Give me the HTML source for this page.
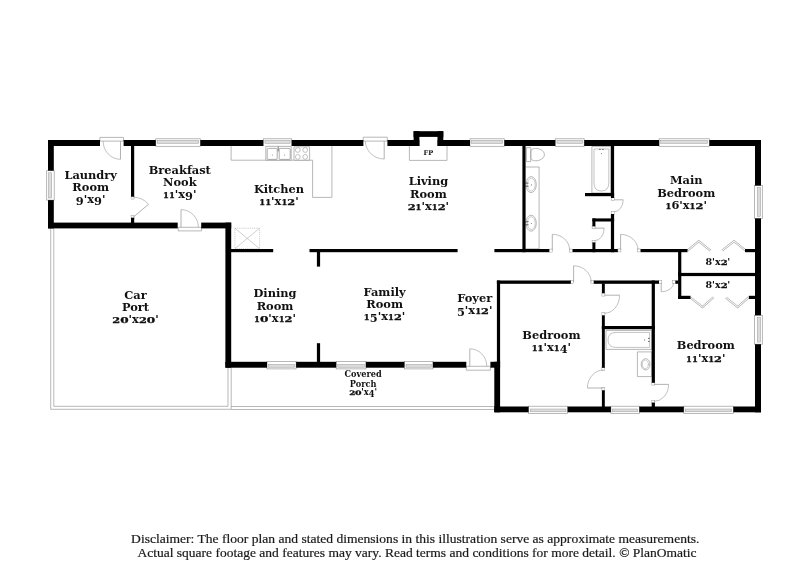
<!DOCTYPE html>
<html lang="en"><head><meta charset="utf-8"><title>Floor plan</title>
<style>
html,body{margin:0;padding:0;background:#fff;}
body{width:809px;height:588px;overflow:hidden;}
svg{display:block;filter:grayscale(1);}
text{font-family:"DejaVu Serif","Liberation Serif",serif;fill:#111;}
.lb{font-weight:bold;font-size:11.4px;text-anchor:middle;}
.cl{font-weight:bold;font-size:10px;text-anchor:middle;}
.sm{font-weight:bold;font-size:8.9px;}
.fp{font-weight:bold;font-size:6.6px;text-anchor:middle;}
.ds{font-family:"Liberation Serif","DejaVu Serif",serif;font-size:12.8px;fill:#1a1a1a;stroke:#1a1a1a;stroke-width:0.2px;}
</style></head><body>
<svg width="809" height="588" viewBox="0 0 809 588">
<rect width="809" height="588" fill="#fff"/>
<g id="thin">
<rect x="155.80" y="138.80" width="44.50" height="7.50" fill="#fff" stroke="#9a9a9a" stroke-width="0.7"/>
<rect x="157.40" y="140.50" width="41.30" height="2.80" fill="#dcdcdc" stroke="#9a9a9a" stroke-width="0.5"/>
<rect x="263.30" y="138.80" width="28.40" height="7.50" fill="#fff" stroke="#9a9a9a" stroke-width="0.7"/>
<rect x="264.90" y="140.50" width="25.20" height="2.80" fill="#dcdcdc" stroke="#9a9a9a" stroke-width="0.5"/>
<rect x="470.00" y="138.80" width="34.30" height="7.50" fill="#fff" stroke="#9a9a9a" stroke-width="0.7"/>
<rect x="471.60" y="140.50" width="31.10" height="2.80" fill="#dcdcdc" stroke="#9a9a9a" stroke-width="0.5"/>
<rect x="555.30" y="138.80" width="28.90" height="7.50" fill="#fff" stroke="#9a9a9a" stroke-width="0.7"/>
<rect x="556.90" y="140.50" width="25.70" height="2.80" fill="#dcdcdc" stroke="#9a9a9a" stroke-width="0.5"/>
<rect x="659.10" y="138.80" width="50.20" height="7.50" fill="#fff" stroke="#9a9a9a" stroke-width="0.7"/>
<rect x="660.70" y="140.50" width="47.00" height="2.80" fill="#dcdcdc" stroke="#9a9a9a" stroke-width="0.5"/>
<rect x="267.00" y="361.50" width="29.10" height="7.40" fill="#fff" stroke="#9a9a9a" stroke-width="0.7"/>
<rect x="268.60" y="364.40" width="25.90" height="2.80" fill="#dcdcdc" stroke="#9a9a9a" stroke-width="0.5"/>
<rect x="336.20" y="361.50" width="29.70" height="7.40" fill="#fff" stroke="#9a9a9a" stroke-width="0.7"/>
<rect x="337.80" y="364.40" width="26.50" height="2.80" fill="#dcdcdc" stroke="#9a9a9a" stroke-width="0.5"/>
<rect x="404.40" y="361.50" width="28.50" height="7.40" fill="#fff" stroke="#9a9a9a" stroke-width="0.7"/>
<rect x="406.00" y="364.40" width="25.30" height="2.80" fill="#dcdcdc" stroke="#9a9a9a" stroke-width="0.5"/>
<rect x="528.60" y="406.20" width="39.00" height="7.30" fill="#fff" stroke="#9a9a9a" stroke-width="0.7"/>
<rect x="530.20" y="409.00" width="35.80" height="2.80" fill="#dcdcdc" stroke="#9a9a9a" stroke-width="0.5"/>
<rect x="610.90" y="406.20" width="28.40" height="7.30" fill="#fff" stroke="#9a9a9a" stroke-width="0.7"/>
<rect x="612.50" y="409.00" width="25.20" height="2.80" fill="#dcdcdc" stroke="#9a9a9a" stroke-width="0.5"/>
<rect x="683.80" y="406.20" width="49.50" height="7.30" fill="#fff" stroke="#9a9a9a" stroke-width="0.7"/>
<rect x="685.40" y="409.00" width="46.30" height="2.80" fill="#dcdcdc" stroke="#9a9a9a" stroke-width="0.5"/>
<rect x="46.70" y="170.70" width="7.50" height="29.40" fill="#fff" stroke="#9a9a9a" stroke-width="0.7"/>
<rect x="48.40" y="172.80" width="3.30" height="25.20" fill="#dcdcdc" stroke="#9a9a9a" stroke-width="0.5"/>
<rect x="754.60" y="185.60" width="7.70" height="32.80" fill="#fff" stroke="#9a9a9a" stroke-width="0.7"/>
<rect x="757.30" y="187.70" width="3.30" height="28.60" fill="#dcdcdc" stroke="#9a9a9a" stroke-width="0.5"/>
<rect x="754.60" y="315.30" width="7.70" height="28.90" fill="#fff" stroke="#9a9a9a" stroke-width="0.7"/>
<rect x="757.30" y="317.40" width="3.30" height="24.70" fill="#dcdcdc" stroke="#9a9a9a" stroke-width="0.5"/>
<path d="M50.7,228.4 V409.3 H231.2 V367.7" fill="none" stroke="#9a9a9a" stroke-width="0.7" />
<path d="M53.8,228.4 V406.3 H228.0 V367.7" fill="none" stroke="#9a9a9a" stroke-width="0.7" />
<path d="M231.2,409.5 H494.3" fill="none" stroke="#9a9a9a" stroke-width="0.7" />
<path d="M231.2,406.5 H494.3" fill="none" stroke="#9a9a9a" stroke-width="0.7" />
<path d="M231.1,146 V160.2 H312.6 V197.4 H331.9 V146" fill="#fff" stroke="#9a9a9a" stroke-width="0.7" />
<path d="M265.8,146.4 H291.2 V160.2 H265.8 Z" fill="#fff" stroke="#9a9a9a" stroke-width="0.7" />
<path d="M268.2,148.4 H276.2 Q277.2,148.4 277.2,149.4 V158.4 Q277.2,159.4 276.2,159.4 H268.2 Q267.2,159.4 267.2,158.4 V149.4 Q267.2,148.4 268.2,148.4 Z M280.2,148.4 H289.2 Q290.2,148.4 290.2,149.4 V158.4 Q290.2,159.4 289.2,159.4 H280.2 Q279.2,159.4 279.2,158.4 V149.4 Q279.2,148.4 280.2,148.4 Z" fill="none" stroke="#777" stroke-width="0.6" />
<path d="M278.2,146.6 V151.4" fill="none" stroke="#666" stroke-width="0.9" />
<circle cx="272.3" cy="155" r="0.5" fill="#777"/><circle cx="284.6" cy="155" r="0.5" fill="#777"/>
<path d="M294.0,146.8 H309.6 V160.2 H294.0 Z" fill="#fff" stroke="#9a9a9a" stroke-width="0.7" />
<circle cx="297.8" cy="150.0" r="2.4" fill="none" stroke="#9a9a9a" stroke-width="0.6"/>
<circle cx="305.2" cy="150.0" r="2.4" fill="none" stroke="#9a9a9a" stroke-width="0.6"/>
<circle cx="297.8" cy="156.9" r="2.4" fill="none" stroke="#9a9a9a" stroke-width="0.6"/>
<circle cx="305.2" cy="156.9" r="2.4" fill="none" stroke="#9a9a9a" stroke-width="0.6"/>
<path d="M234.9,228.2 H259.6 V248.7 H234.9 Z" fill="none" stroke="#a8a8a8" stroke-width="0.6" stroke-dasharray="1 0.9"/>
<path d="M234.9,228.2 L259.6,248.7 M259.6,228.2 L234.9,248.7" fill="none" stroke="#a8a8a8" stroke-width="0.55" />
<path d="M409.4,146 V160.4 H447 V146" fill="#fff" stroke="#9a9a9a" stroke-width="0.7" />
<path d="M419.3,136.9 V146 M437.6,136.9 V146" fill="none" stroke="#9a9a9a" stroke-width="0.5" />
<path d="M525.6,167 H539.1 V248.8 H525.6" fill="none" stroke="#9a9a9a" stroke-width="0.7" />
<ellipse cx="531.1" cy="184.6" rx="5.2" ry="8.0" fill="#fff" stroke="#9a9a9a" stroke-width="0.7"/>
<ellipse cx="531.3" cy="184.6" rx="3.9" ry="6.4" fill="none" stroke="#9a9a9a" stroke-width="0.5"/>
<path d="M525.4,183.1 H528.6 M525.4,186.2 H528.6" fill="none" stroke="#555" stroke-width="0.9" />
<circle cx="531.4" cy="184.9" r="0.55" fill="#777"/>
<ellipse cx="531.1" cy="223.2" rx="5.2" ry="8.0" fill="#fff" stroke="#9a9a9a" stroke-width="0.7"/>
<ellipse cx="531.3" cy="223.2" rx="3.9" ry="6.4" fill="none" stroke="#9a9a9a" stroke-width="0.5"/>
<path d="M525.4,221.7 H528.6 M525.4,224.8 H528.6" fill="none" stroke="#555" stroke-width="0.9" />
<circle cx="531.4" cy="223.5" r="0.55" fill="#777"/>
<path d="M526.4,147.6 H530.8 V161.6 H526.4 Z" fill="none" stroke="#9a9a9a" stroke-width="0.7" />
<path d="M530.8,150.8 C531.6,148.2 536.6,148.0 539.4,149.0 C542.8,150.2 544.4,152.4 544.4,154.6 C544.4,156.8 542.8,159.0 539.4,160.2 C536.6,161.2 531.6,161.0 530.8,158.4 Z" fill="none" stroke="#9a9a9a" stroke-width="0.7" />
<path d="M591.9,146.6 H610.9 V193 H591.9 Z" fill="none" stroke="#9a9a9a" stroke-width="0.7" />
<path d="M594,149 H608.8 V183 Q608.8,191 601.4,191 Q594,191 594,183 Z" fill="none" stroke="#9a9a9a" stroke-width="0.6" />
<circle cx="599.9" cy="149.4" r="0.7" fill="#555"/><circle cx="602.9" cy="149.4" r="0.7" fill="#555"/><circle cx="601.4" cy="153.6" r="0.55" fill="#777"/>
<path d="M606,330.4 H651.7 V349.4 H606 Z" fill="none" stroke="#9a9a9a" stroke-width="0.7" />
<path d="M649.6,332.4 V347.4 H616 Q608,347.4 608,339.9 Q608,332.4 616,332.4 Z" fill="none" stroke="#9a9a9a" stroke-width="0.6" />
<circle cx="648.8" cy="338.4" r="0.7" fill="#555"/><circle cx="648.8" cy="341.4" r="0.7" fill="#555"/><circle cx="644.6" cy="339.9" r="0.55" fill="#777"/>
<path d="M637.4,351.9 H651.7 V376.6 H637.4 Z" fill="none" stroke="#9a9a9a" stroke-width="0.7" />
<ellipse cx="645.6" cy="364.3" rx="4.4" ry="5.6" fill="#fff" stroke="#9a9a9a" stroke-width="0.7"/>
<ellipse cx="645.3" cy="364.3" rx="3" ry="4.2" fill="none" stroke="#9a9a9a" stroke-width="0.5"/>
<circle cx="649" cy="364.3" r="0.6" fill="#9a9a9a"/>
<rect x="99.90" y="137.40" width="23.60" height="8.90" fill="#fff"/>
<path d="M99.90,141.10 V137.40 H123.50 V141.10 Z" fill="#fff" stroke="#9a9a9a" stroke-width="0.7" />
<path d="M120.50,159.30 A17.40,18.20 0 0 1 103.10,141.10" fill="none" stroke="#a6a6a6" stroke-width="0.7" />
<path d="M120.50,141.10 L120.50,159.30" fill="none" stroke="#a0a0a0" stroke-width="0.8" />
<rect x="363.20" y="137.20" width="24.10" height="9.10" fill="#fff"/>
<path d="M363.20,141.10 V137.20 H387.30 V141.10 Z" fill="#fff" stroke="#9a9a9a" stroke-width="0.7" />
<path d="M384.20,159.00 A18.80,17.90 0 0 1 365.40,141.10" fill="none" stroke="#a6a6a6" stroke-width="0.7" />
<path d="M384.20,141.10 L384.20,159.00" fill="none" stroke="#a0a0a0" stroke-width="0.8" />
<rect x="178.20" y="222.30" width="23.40" height="8.60" fill="#fff"/>
<path d="M178.20,227.30 V230.90 H201.60 V227.30 Z" fill="#fff" stroke="#9a9a9a" stroke-width="0.7" />
<path d="M181.00,209.60 A17.40,17.70 0 0 1 198.40,227.30" fill="none" stroke="#a6a6a6" stroke-width="0.7" />
<path d="M181.00,227.30 L181.00,209.60" fill="none" stroke="#a0a0a0" stroke-width="0.8" />
<rect x="466.30" y="361.50" width="24.10" height="8.70" fill="#fff"/>
<path d="M466.30,366.30 V370.20 H490.40 V366.30 Z" fill="#fff" stroke="#9a9a9a" stroke-width="0.7" />
<path d="M469.80,348.80 A17.00,17.50 0 0 1 486.80,366.30" fill="none" stroke="#a6a6a6" stroke-width="0.7" />
<path d="M469.80,366.30 L469.80,348.80" fill="none" stroke="#a0a0a0" stroke-width="0.8" />
<rect x="131.10" y="196.10" width="3.00" height="3.00" fill="#fff" stroke="#9a9a9a" stroke-width="0.5"/>
<rect x="131.10" y="215.50" width="3.00" height="3.00" fill="#fff" stroke="#9a9a9a" stroke-width="0.5"/>
<path d="M148.52,204.34 A20.0,20.0 0 0 0 133.20,197.20" fill="none" stroke="#a6a6a6" stroke-width="0.7" />
<path d="M133.20,217.20 L148.52,204.34" fill="none" stroke="#a0a0a0" stroke-width="0.8" />
<rect x="549.20" y="249.10" width="3.00" height="3.00" fill="#fff" stroke="#9a9a9a" stroke-width="0.5"/>
<rect x="569.50" y="249.10" width="3.00" height="3.00" fill="#fff" stroke="#9a9a9a" stroke-width="0.5"/>
<path d="M552.30,234.30 A17.30,15.70 0 0 1 569.60,250.00" fill="none" stroke="#a6a6a6" stroke-width="0.7" />
<path d="M552.30,250.00 L552.30,234.30" fill="none" stroke="#a0a0a0" stroke-width="0.8" />
<rect x="617.90" y="248.90" width="3.00" height="3.00" fill="#fff" stroke="#9a9a9a" stroke-width="0.5"/>
<rect x="637.70" y="248.90" width="3.00" height="3.00" fill="#fff" stroke="#9a9a9a" stroke-width="0.5"/>
<path d="M620.60,234.40 A17.40,15.60 0 0 1 638.00,250.00" fill="none" stroke="#a6a6a6" stroke-width="0.7" />
<path d="M620.60,250.00 L620.60,234.40" fill="none" stroke="#a0a0a0" stroke-width="0.8" />
<rect x="611.30" y="197.50" width="3.00" height="3.00" fill="#fff" stroke="#9a9a9a" stroke-width="0.5"/>
<rect x="611.30" y="211.40" width="3.00" height="3.00" fill="#fff" stroke="#9a9a9a" stroke-width="0.5"/>
<path d="M623.20,199.80 A9.20,12.00 0 0 1 614.00,211.80" fill="none" stroke="#a6a6a6" stroke-width="0.7" />
<path d="M614.00,199.80 L623.20,199.80" fill="none" stroke="#a0a0a0" stroke-width="0.8" />
<rect x="592.10" y="225.80" width="3.00" height="3.00" fill="#fff" stroke="#9a9a9a" stroke-width="0.5"/>
<rect x="592.10" y="240.40" width="3.00" height="3.00" fill="#fff" stroke="#9a9a9a" stroke-width="0.5"/>
<path d="M604.20,228.10 A9.40,12.50 0 0 1 594.80,240.60" fill="none" stroke="#a6a6a6" stroke-width="0.7" />
<path d="M594.80,228.10 L604.20,228.10" fill="none" stroke="#a0a0a0" stroke-width="0.8" />
<rect x="570.70" y="280.60" width="3.00" height="3.00" fill="#fff" stroke="#9a9a9a" stroke-width="0.5"/>
<rect x="590.90" y="280.60" width="3.00" height="3.00" fill="#fff" stroke="#9a9a9a" stroke-width="0.5"/>
<path d="M573.60,265.80 A17.60,16.20 0 0 1 591.20,282.00" fill="none" stroke="#a6a6a6" stroke-width="0.7" />
<path d="M573.60,282.00 L573.60,265.80" fill="none" stroke="#a0a0a0" stroke-width="0.8" />
<rect x="658.80" y="280.60" width="3.00" height="3.00" fill="#fff" stroke="#9a9a9a" stroke-width="0.5"/>
<rect x="672.50" y="280.60" width="3.00" height="3.00" fill="#fff" stroke="#9a9a9a" stroke-width="0.5"/>
<path d="M661.20,291.80 A12.40,8.80 0 0 0 673.60,283.00" fill="none" stroke="#a6a6a6" stroke-width="0.7" />
<path d="M661.20,283.00 L661.20,291.80" fill="none" stroke="#a0a0a0" stroke-width="0.8" />
<rect x="601.90" y="293.10" width="3.00" height="3.00" fill="#fff" stroke="#9a9a9a" stroke-width="0.5"/>
<rect x="601.90" y="312.70" width="3.00" height="3.00" fill="#fff" stroke="#9a9a9a" stroke-width="0.5"/>
<path d="M619.60,295.20 A15.00,18.00 0 0 1 604.60,313.20" fill="none" stroke="#a6a6a6" stroke-width="0.7" />
<path d="M604.60,295.20 L619.60,295.20" fill="none" stroke="#a0a0a0" stroke-width="0.8" />
<rect x="601.80" y="367.40" width="3.00" height="3.00" fill="#fff" stroke="#9a9a9a" stroke-width="0.5"/>
<rect x="601.80" y="387.70" width="3.00" height="3.00" fill="#fff" stroke="#9a9a9a" stroke-width="0.5"/>
<path d="M587.40,388.00 A16.10,18.00 0 0 1 603.50,370.00" fill="none" stroke="#a6a6a6" stroke-width="0.7" />
<path d="M603.50,388.00 L587.40,388.00" fill="none" stroke="#a0a0a0" stroke-width="0.8" />
<rect x="651.80" y="382.10" width="3.00" height="3.00" fill="#fff" stroke="#9a9a9a" stroke-width="0.5"/>
<rect x="651.80" y="400.30" width="3.00" height="3.00" fill="#fff" stroke="#9a9a9a" stroke-width="0.5"/>
<path d="M668.60,384.40 A14.60,17.00 0 0 1 654.00,401.40" fill="none" stroke="#a6a6a6" stroke-width="0.7" />
<path d="M654.00,384.40 L668.60,384.40" fill="none" stroke="#a0a0a0" stroke-width="0.8" />
<path d="M687.4,250.6 L698.8,241.2 L710.4,250.6" fill="none" stroke="#b4b4b4" stroke-width="2.2" stroke-linejoin="miter"/>
<path d="M687.4,250.6 L698.8,241.2 L710.4,250.6" fill="none" stroke="#fff" stroke-width="1.0" stroke-linejoin="miter"/>
<path d="M722.2,250.6 L734.0,241.2 L745.8,250.6" fill="none" stroke="#b4b4b4" stroke-width="2.2" stroke-linejoin="miter"/>
<path d="M722.2,250.6 L734.0,241.2 L745.8,250.6" fill="none" stroke="#fff" stroke-width="1.0" stroke-linejoin="miter"/>
<path d="M690.5,297.6 L702.5,307.0 L713.5,297.2" fill="none" stroke="#b4b4b4" stroke-width="2.2" stroke-linejoin="miter"/>
<path d="M690.5,297.6 L702.5,307.0 L713.5,297.2" fill="none" stroke="#fff" stroke-width="1.0" stroke-linejoin="miter"/>
<path d="M725.9,297.6 L737.7,307.0 L748.9,297.2" fill="none" stroke="#b4b4b4" stroke-width="2.2" stroke-linejoin="miter"/>
<path d="M725.9,297.6 L737.7,307.0 L748.9,297.2" fill="none" stroke="#fff" stroke-width="1.0" stroke-linejoin="miter"/>
</g>
<g id="walls" shape-rendering="auto">
<rect x="48.00" y="140.00" width="52.00" height="6.00" fill="#000" />
<rect x="123.60" y="140.00" width="32.20" height="6.00" fill="#000" />
<rect x="200.30" y="140.00" width="63.00" height="6.00" fill="#000" />
<rect x="291.70" y="140.00" width="71.70" height="6.00" fill="#000" />
<rect x="387.40" y="140.00" width="31.90" height="6.00" fill="#000" />
<rect x="437.60" y="140.00" width="32.40" height="6.00" fill="#000" />
<rect x="504.30" y="140.00" width="51.00" height="6.00" fill="#000" />
<rect x="584.20" y="140.00" width="74.90" height="6.00" fill="#000" />
<rect x="709.30" y="140.00" width="51.70" height="6.00" fill="#000" />
<rect x="413.60" y="131.20" width="29.70" height="5.70" fill="#000" />
<rect x="413.60" y="131.20" width="5.70" height="14.80" fill="#000" />
<rect x="437.60" y="131.20" width="5.70" height="14.80" fill="#000" />
<rect x="48.00" y="140.00" width="5.80" height="30.70" fill="#000" />
<rect x="48.00" y="200.10" width="5.80" height="28.30" fill="#000" />
<rect x="48.00" y="222.60" width="129.70" height="5.80" fill="#000" />
<rect x="201.20" y="222.60" width="30.00" height="5.80" fill="#000" />
<rect x="225.40" y="222.60" width="5.80" height="145.10" fill="#000" />
<rect x="225.40" y="361.80" width="41.60" height="5.90" fill="#000" />
<rect x="296.10" y="361.80" width="40.10" height="5.90" fill="#000" />
<rect x="365.90" y="361.80" width="38.50" height="5.90" fill="#000" />
<rect x="432.90" y="361.80" width="33.40" height="5.90" fill="#000" />
<rect x="490.40" y="361.80" width="9.70" height="5.90" fill="#000" />
<rect x="494.30" y="361.80" width="5.80" height="50.50" fill="#000" />
<rect x="494.30" y="406.50" width="34.30" height="5.80" fill="#000" />
<rect x="567.60" y="406.50" width="43.30" height="5.80" fill="#000" />
<rect x="639.30" y="406.50" width="44.50" height="5.80" fill="#000" />
<rect x="733.30" y="406.50" width="27.70" height="5.80" fill="#000" />
<rect x="755.00" y="140.00" width="6.00" height="45.60" fill="#000" />
<rect x="755.00" y="218.40" width="6.00" height="96.90" fill="#000" />
<rect x="755.00" y="344.20" width="6.00" height="68.10" fill="#000" />
<rect x="131.00" y="146.00" width="3.20" height="50.70" fill="#000" />
<rect x="131.00" y="217.70" width="3.20" height="5.40" fill="#000" />
<rect x="230.70" y="249.00" width="42.50" height="3.20" fill="#000" />
<rect x="309.50" y="249.00" width="148.10" height="3.20" fill="#000" />
<rect x="494.40" y="249.00" width="54.80" height="3.20" fill="#000" />
<rect x="572.60" y="249.00" width="45.20" height="3.20" fill="#000" />
<rect x="640.60" y="249.00" width="46.90" height="3.20" fill="#000" />
<rect x="745.00" y="249.00" width="10.50" height="3.20" fill="#000" />
<rect x="316.90" y="251.70" width="3.20" height="14.90" fill="#000" />
<rect x="316.90" y="343.20" width="3.20" height="19.10" fill="#000" />
<rect x="522.40" y="145.50" width="3.20" height="106.70" fill="#000" />
<rect x="610.90" y="145.50" width="3.20" height="52.50" fill="#000" />
<rect x="610.90" y="214.00" width="3.20" height="38.20" fill="#000" />
<rect x="585.00" y="193.00" width="29.10" height="3.20" fill="#000" />
<rect x="592.40" y="218.40" width="21.70" height="3.10" fill="#000" />
<rect x="592.40" y="218.40" width="3.00" height="8.00" fill="#000" />
<rect x="592.40" y="242.40" width="3.00" height="9.80" fill="#000" />
<rect x="678.10" y="249.00" width="3.20" height="50.00" fill="#000" />
<rect x="678.10" y="272.90" width="77.40" height="3.20" fill="#000" />
<rect x="678.10" y="295.80" width="12.40" height="3.20" fill="#000" />
<rect x="748.90" y="295.80" width="6.60" height="3.20" fill="#000" />
<rect x="496.90" y="280.50" width="73.90" height="3.30" fill="#000" />
<rect x="593.80" y="280.50" width="65.20" height="3.30" fill="#000" />
<rect x="675.40" y="280.50" width="3.10" height="3.30" fill="#000" />
<rect x="496.90" y="280.50" width="3.20" height="81.80" fill="#000" />
<rect x="651.70" y="280.50" width="3.20" height="102.30" fill="#000" />
<rect x="651.70" y="402.60" width="3.20" height="4.40" fill="#000" />
<rect x="601.90" y="283.30" width="2.90" height="9.90" fill="#000" />
<rect x="601.90" y="315.40" width="2.90" height="52.40" fill="#000" />
<rect x="601.90" y="390.30" width="2.90" height="16.70" fill="#000" />
<rect x="601.80" y="326.00" width="53.10" height="3.20" fill="#000" />
</g>
<g id="labels">
<text x="90.7" y="178.5" class="lb">Laundry</text>
<text x="90.7" y="190.8" class="lb">Room</text>
<text x="90.7" y="203.1" class="lb"><tspan dy="2.17">9</tspan><tspan dy="-2.17">'</tspan>x<tspan dy="2.17">9</tspan><tspan dy="-2.17">'</tspan></text>
<text x="179.8" y="173.7" class="lb">Breakfast</text>
<text x="179.8" y="186.0" class="lb">Nook</text>
<text x="179.8" y="198.3" class="lb"><tspan font-size="7.98" stroke="#111" stroke-width="0.3" textLength="5.90" lengthAdjust="spacingAndGlyphs">1</tspan><tspan font-size="7.98" stroke="#111" stroke-width="0.3" textLength="5.90" lengthAdjust="spacingAndGlyphs">1</tspan>'x<tspan dy="2.17">9</tspan><tspan dy="-2.17">'</tspan></text>
<text x="279.0" y="192.7" class="lb">Kitchen</text>
<text x="279.0" y="205.0" class="lb"><tspan font-size="7.98" stroke="#111" stroke-width="0.3" textLength="5.90" lengthAdjust="spacingAndGlyphs">1</tspan><tspan font-size="7.98" stroke="#111" stroke-width="0.3" textLength="5.90" lengthAdjust="spacingAndGlyphs">1</tspan>'x<tspan font-size="7.98" stroke="#111" stroke-width="0.3" textLength="5.90" lengthAdjust="spacingAndGlyphs">1</tspan><tspan font-size="7.98" stroke="#111" stroke-width="0.3" textLength="7.90" lengthAdjust="spacingAndGlyphs">2</tspan>'</text>
<text x="428.4" y="185.3" class="lb">Living</text>
<text x="428.4" y="197.6" class="lb">Room</text>
<text x="428.4" y="209.9" class="lb"><tspan font-size="7.98" stroke="#111" stroke-width="0.3" textLength="7.90" lengthAdjust="spacingAndGlyphs">2</tspan><tspan font-size="7.98" stroke="#111" stroke-width="0.3" textLength="5.90" lengthAdjust="spacingAndGlyphs">1</tspan>'x<tspan font-size="7.98" stroke="#111" stroke-width="0.3" textLength="5.90" lengthAdjust="spacingAndGlyphs">1</tspan><tspan font-size="7.98" stroke="#111" stroke-width="0.3" textLength="7.90" lengthAdjust="spacingAndGlyphs">2</tspan>'</text>
<text x="686.2" y="184.4" class="lb">Main</text>
<text x="686.2" y="196.7" class="lb">Bedroom</text>
<text x="686.2" y="209.0" class="lb"><tspan font-size="7.98" stroke="#111" stroke-width="0.3" textLength="5.90" lengthAdjust="spacingAndGlyphs">1</tspan>6'x<tspan font-size="7.98" stroke="#111" stroke-width="0.3" textLength="5.90" lengthAdjust="spacingAndGlyphs">1</tspan><tspan font-size="7.98" stroke="#111" stroke-width="0.3" textLength="7.90" lengthAdjust="spacingAndGlyphs">2</tspan>'</text>
<text x="135.5" y="298.5" class="lb">Car</text>
<text x="135.5" y="310.8" class="lb">Port</text>
<text x="135.5" y="323.1" class="lb"><tspan font-size="7.98" stroke="#111" stroke-width="0.3" textLength="7.90" lengthAdjust="spacingAndGlyphs">2</tspan><tspan font-size="7.98" stroke="#111" stroke-width="0.3" textLength="8.40" lengthAdjust="spacingAndGlyphs">0</tspan>'x<tspan font-size="7.98" stroke="#111" stroke-width="0.3" textLength="7.90" lengthAdjust="spacingAndGlyphs">2</tspan><tspan font-size="7.98" stroke="#111" stroke-width="0.3" textLength="8.40" lengthAdjust="spacingAndGlyphs">0</tspan>'</text>
<text x="275.0" y="297.2" class="lb">Dining</text>
<text x="275.0" y="309.5" class="lb">Room</text>
<text x="275.0" y="321.8" class="lb"><tspan font-size="7.98" stroke="#111" stroke-width="0.3" textLength="5.90" lengthAdjust="spacingAndGlyphs">1</tspan><tspan font-size="7.98" stroke="#111" stroke-width="0.3" textLength="8.40" lengthAdjust="spacingAndGlyphs">0</tspan>'x<tspan font-size="7.98" stroke="#111" stroke-width="0.3" textLength="5.90" lengthAdjust="spacingAndGlyphs">1</tspan><tspan font-size="7.98" stroke="#111" stroke-width="0.3" textLength="7.90" lengthAdjust="spacingAndGlyphs">2</tspan>'</text>
<text x="384.6" y="295.5" class="lb">Family</text>
<text x="384.6" y="307.8" class="lb">Room</text>
<text x="384.6" y="320.1" class="lb"><tspan font-size="7.98" stroke="#111" stroke-width="0.3" textLength="5.90" lengthAdjust="spacingAndGlyphs">1</tspan><tspan dy="2.17">5</tspan><tspan dy="-2.17">'</tspan>x<tspan font-size="7.98" stroke="#111" stroke-width="0.3" textLength="5.90" lengthAdjust="spacingAndGlyphs">1</tspan><tspan font-size="7.98" stroke="#111" stroke-width="0.3" textLength="7.90" lengthAdjust="spacingAndGlyphs">2</tspan>'</text>
<text x="474.7" y="302.0" class="lb">Foyer</text>
<text x="474.7" y="314.3" class="lb"><tspan dy="2.17">5</tspan><tspan dy="-2.17">'</tspan>x<tspan font-size="7.98" stroke="#111" stroke-width="0.3" textLength="5.90" lengthAdjust="spacingAndGlyphs">1</tspan><tspan font-size="7.98" stroke="#111" stroke-width="0.3" textLength="7.90" lengthAdjust="spacingAndGlyphs">2</tspan>'</text>
<text x="551.4" y="338.8" class="lb">Bedroom</text>
<text x="551.4" y="351.1" class="lb"><tspan font-size="7.98" stroke="#111" stroke-width="0.3" textLength="5.90" lengthAdjust="spacingAndGlyphs">1</tspan><tspan font-size="7.98" stroke="#111" stroke-width="0.3" textLength="5.90" lengthAdjust="spacingAndGlyphs">1</tspan>'x<tspan font-size="7.98" stroke="#111" stroke-width="0.3" textLength="5.90" lengthAdjust="spacingAndGlyphs">1</tspan><tspan dy="2.17">4</tspan><tspan dy="-2.17">'</tspan></text>
<text x="705.8" y="349.4" class="lb">Bedroom</text>
<text x="705.8" y="361.7" class="lb"><tspan font-size="7.98" stroke="#111" stroke-width="0.3" textLength="5.90" lengthAdjust="spacingAndGlyphs">1</tspan><tspan font-size="7.98" stroke="#111" stroke-width="0.3" textLength="5.90" lengthAdjust="spacingAndGlyphs">1</tspan>'x<tspan font-size="7.98" stroke="#111" stroke-width="0.3" textLength="5.90" lengthAdjust="spacingAndGlyphs">1</tspan><tspan font-size="7.98" stroke="#111" stroke-width="0.3" textLength="7.90" lengthAdjust="spacingAndGlyphs">2</tspan>'</text>
<text x="344.55" y="377.4" class="sm" textLength="37.1" lengthAdjust="spacingAndGlyphs">Covered</text>
<text x="349.75" y="386.6" class="sm" textLength="26.7" lengthAdjust="spacingAndGlyphs">Porch</text>
<text x="349.15" y="395.4" class="sm" textLength="27.9" lengthAdjust="spacingAndGlyphs"><tspan font-size="6.23" stroke="#111" stroke-width="0.3" textLength="6.17" lengthAdjust="spacingAndGlyphs">2</tspan><tspan font-size="6.23" stroke="#111" stroke-width="0.3" textLength="6.56" lengthAdjust="spacingAndGlyphs">0</tspan>'x<tspan dy="1.69">4</tspan><tspan dy="-1.69">'</tspan></text>
<text x="428.3" y="154.7" class="fp">FP</text>
<text x="717.8" y="265.4" class="cl" textLength="24.8" lengthAdjust="spacingAndGlyphs">8'x<tspan font-size="7.00" stroke="#111" stroke-width="0.3" textLength="6.93" lengthAdjust="spacingAndGlyphs">2</tspan>'</text>
<text x="717.8" y="288.4" class="cl" textLength="24.8" lengthAdjust="spacingAndGlyphs">8'x<tspan font-size="7.00" stroke="#111" stroke-width="0.3" textLength="6.93" lengthAdjust="spacingAndGlyphs">2</tspan>'</text>
<text x="131.1" y="542.5" class="ds" textLength="568.3" lengthAdjust="spacingAndGlyphs">Disclaimer: The floor plan and stated dimensions in this illustration serve as approximate measurements.</text>
<text x="137.4" y="557.2" class="ds" textLength="559.2" lengthAdjust="spacingAndGlyphs">Actual square footage and features may vary. Read terms and conditions for more detail. © PlanOmatic</text>
</g>
</svg>
</body></html>
